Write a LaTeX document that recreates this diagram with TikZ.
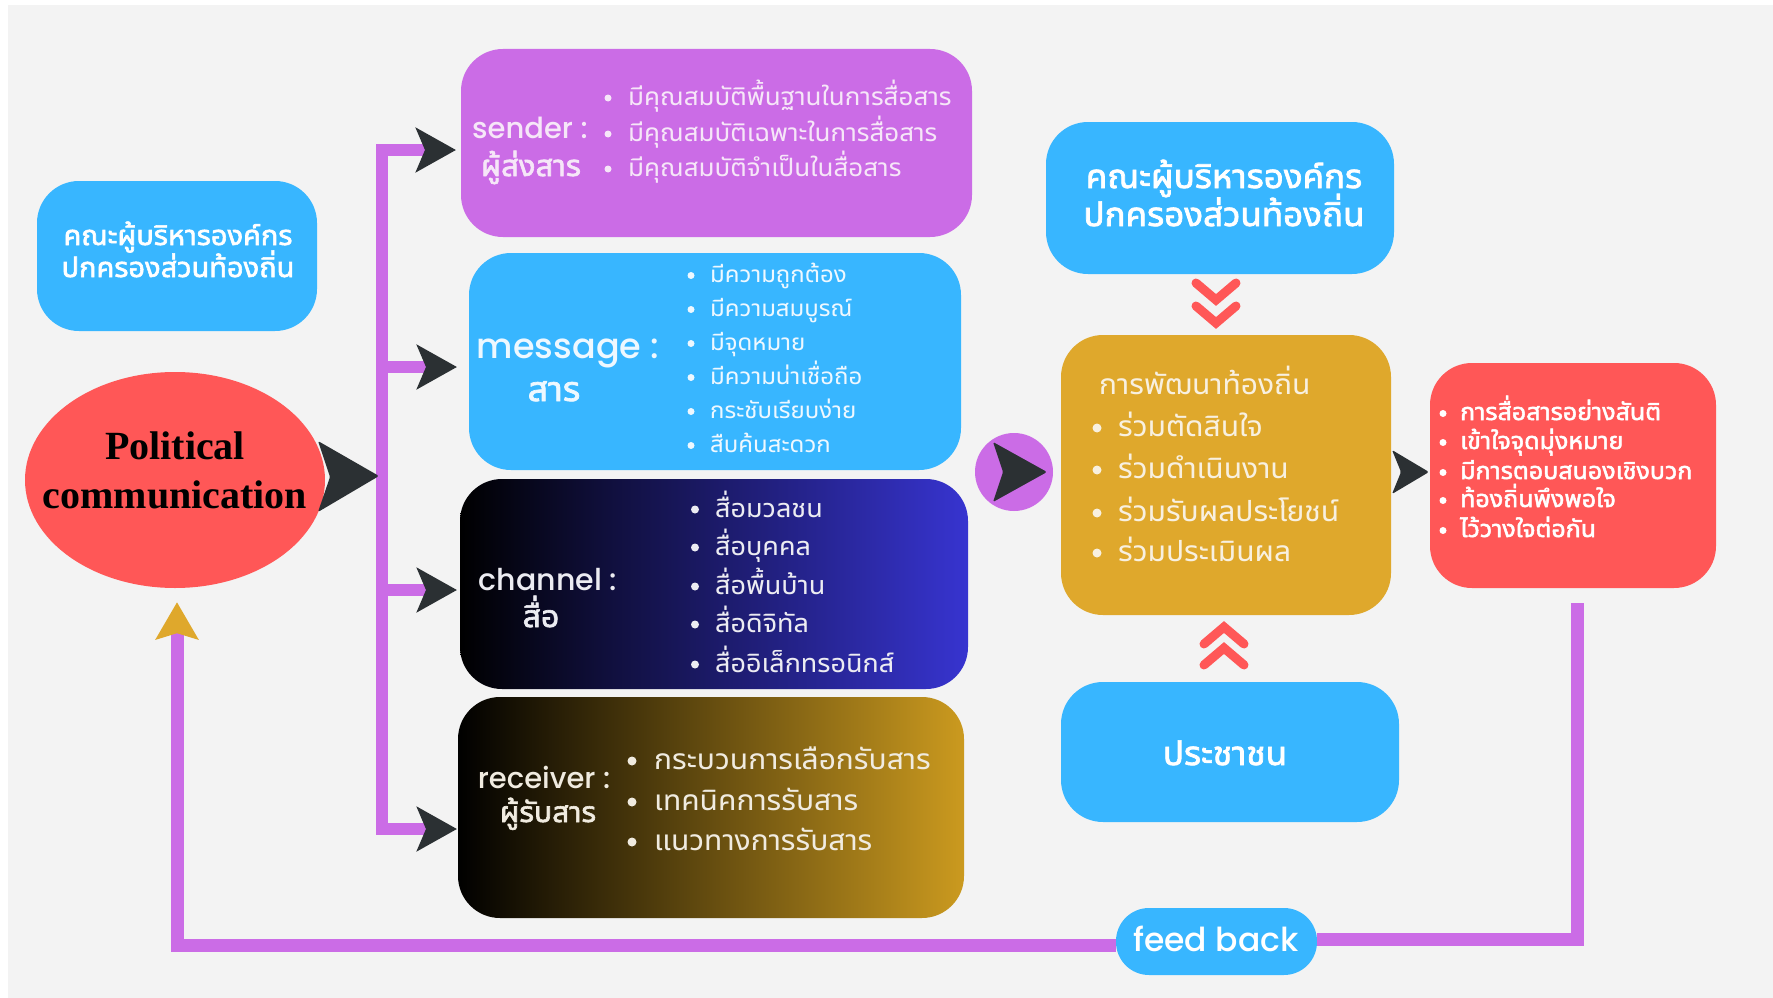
\documentclass[tikz,border=0pt]{standalone}
\usepackage{fontspec}
\usetikzlibrary{arrows.meta,shapes.geometric,calc}
\newfontfamily\thaifont[Script=Thai]{Noto Sans Thai UI}
\IfFontExistsTF{Noto Sans Thai UI Bold}
  {\newfontfamily\thaibold[Script=Thai]{Noto Sans Thai UI Bold}}
  {\newfontfamily\thaibold[Script=Thai,FakeBold=2]{Noto Sans Thai UI}}
\IfFontExistsTF{Poppins Medium}
  {\newfontfamily\latinfont{Poppins Medium}}
  {\newfontfamily\latinfont[FakeBold=0.8]{Poppins}}
\newfontfamily\titlefont{Liberation Serif}
\definecolor{bg}{HTML}{F3F3F3}
\definecolor{cblue}{HTML}{38B6FF}
\definecolor{cpurple}{HTML}{CB6CE6}
\definecolor{cred}{HTML}{FF5757}
\definecolor{cgold}{HTML}{DFA82C}
\definecolor{cdark}{HTML}{2B3033}
\definecolor{chanright}{HTML}{3734D0}
\definecolor{recright}{HTML}{CB9A1F}
\definecolor{tsender}{HTML}{F6E6F8}
\definecolor{tmsg}{HTML}{EEF8FF}
\definecolor{tchan}{HTML}{ECECF2}
\definecolor{trec}{HTML}{F0EBE0}
\definecolor{tgold}{HTML}{F8F0E0}
\tikzset{
  box/.style={rounded corners=42pt, inner sep=0pt, draw=none},
  thr/.style={font=\thaifont\fontsize{#1}{#1}\selectfont, inner sep=0pt, anchor=base west},
  thb/.style={font=\thaibold\fontsize{#1}{#1}\selectfont, inner sep=0pt, anchor=base},
  thbw/.style={font=\thaibold\fontsize{#1}{#1}\selectfont, inner sep=0pt, anchor=base west},
  lat/.style={font=\latinfont\fontsize{#1}{#1}\selectfont, inner sep=0pt, anchor=base},
  trunkline/.style={cpurple, line width=12pt, line join=miter},
  fbline/.style={cpurple, line width=13pt, line join=miter},
  darktip/.tip={Stealth[length=40pt, width=44pt, inset=9pt, color=cdark]},
  goldtip/.tip={Stealth[length=37pt, width=42pt, inset=6pt, color=cgold]},
  chevron/.style={cred, line width=9pt, line cap=round, line join=miter},
}
\begin{document}
\begin{tikzpicture}[x=1pt,y=-1pt]
\useasboundingbox (0,0) rectangle (1773,998);
\fill[white] (0,0) rectangle (1773,998);
\fill[bg] (8,5) rectangle (1773,998);

% ---------- boxes ----------
\node[box, fill=cblue, minimum width=280, minimum height=150] (admin) at (177,256) {};
\node[ellipse, inner sep=0pt, fill=cred, minimum width=300, minimum height=216] (pc) at (175,480) {};
\node[box, fill=cpurple, minimum width=511, minimum height=188] (sender) at (716.5,143) {};
\node[box, fill=cblue, minimum width=492, minimum height=217] (message) at (715,361.5) {};
\node[box, left color=black, right color=chanright, minimum width=508, minimum height=210] (channel) at (714,584) {};
\node[box, left color=black, right color=recright, minimum width=506, minimum height=221] (receiver) at (711,807.5) {};
\node[circle, inner sep=0pt, fill=cpurple, minimum size=78] (hub) at (1014,472) {};
\node[box, fill=cblue, minimum width=348, minimum height=152] (admin2) at (1220,198) {};
\node[box, fill=cgold, minimum width=330, minimum height=280] (dev) at (1226,475) {};
\node[box, fill=cred, minimum width=286, minimum height=225] (result) at (1573,475.5) {};
\node[box, fill=cblue, minimum width=338, minimum height=140] (people) at (1230,752) {};
\node[box, rounded corners=33pt, fill=cblue, minimum width=201, minimum height=67] (fb) at (1216.5,941.5) {};

% ---------- branching connector to the four elements ----------
\coordinate (t1) at (382,150);
\coordinate (t2) at (382,367);
\coordinate (t3) at (382,590);
\coordinate (t4) at (382,829);
\coordinate (in1) at (456,150);
\coordinate (in2) at (457,367);
\coordinate (in3) at (457,590);
\coordinate (in4) at (457,829);
\draw[trunkline, {darktip}-{darktip}] (in1) -- (t1) -- (t4) -- (in4);
\draw[trunkline, -{darktip}] (t2) -- (in2);
\draw[trunkline, -{darktip}] (t3) -- (in3);

% arrow from the ellipse into the trunk
\fill[cdark, rounded corners=1.5pt] (318,441) -- (379,476) -- (318,512) -- (330,477) -- cycle;
% arrow in the hub circle
\fill[cdark, rounded corners=1.5pt] (993,442) -- (1047,472) -- (993,502) -- (1003,472) -- cycle;
% arrow from development box to results
\fill[cdark, rounded corners=1.5pt] (1392,450) -- (1429,472) -- (1392,494) -- (1401,472) -- cycle;

% chevrons between the right-hand boxes
\draw[chevron] (1196,283) -- (1216,300) -- (1236,283);
\draw[chevron] (1196,306) -- (1216,323) -- (1236,306);
\draw[chevron] (1204,644) -- (1224,627) -- (1244,644);
\draw[chevron] (1204,665) -- (1224,648) -- (1244,665);

% feedback loop
\draw[fbline] ([xshift=4pt, yshift=-15pt]result.south) |- ([yshift=2pt]fb.east);
\draw[fbline, -{goldtip}] ([yshift=-4pt]fb.west) -| ([xshift=2pt, yshift=-14pt]pc.south);

% ---------- texts ----------
\node[thb=29, white] (admin-a) at (178,245) {คณะผู้บริหารองค์กร};
\node[thb=29, white] (admin-b) at (178,277) {ปกครองส่วนท้องถิ่น};

\node[font=\titlefont\bfseries\fontsize{40}{40}\selectfont, inner sep=0pt, anchor=base, black] (pc-a) at (175,459) {Political};
\node[font=\titlefont\bfseries\fontsize{40}{40}\selectfont, inner sep=0pt, anchor=base, black] (pc-b) at (175,508) {communication};

% sender
\node[lat=29, tsender] (snd-h) at (530,138) {sender :};
\node[thb=31, tsender] (snd-t) at (531,176) {ผู้ส่งสาร};
\foreach \yy/\item [count=\i] in {105/มีคุณสมบัติพื้นฐานในการสื่อสาร,141/มีคุณสมบัติเฉพาะในการสื่อสาร,176/มีคุณสมบัติจำเป็นในสื่อสาร}{
  \fill[tsender] (608,{\yy-7}) circle (3.5);
  \node[thr=26, tsender] (snd-\i) at (628,\yy) {\item};
}

% message
\node[lat=35, tmsg] (msg-h) at (568,358) {message :};
\node[thb=36, tmsg] (msg-t) at (554,401) {สาร};
\foreach \yy/\item [count=\i] in {282/มีความถูกต้อง,316/มีความสมบูรณ์,350/มีจุดหมาย,384/มีความน่าเชื่อถือ,418/กระชับเรียบง่าย,452/สืบค้นสะดวก}{
  \fill[tmsg] (691,{\yy-6.5}) circle (3.5);
  \node[thr=24, tmsg] (msg-\i) at (710,\yy) {\item};
}

% channel
\node[lat=30, tchan] (chn-h) at (548,590) {channel :};
\node[thb=32, tchan] (chn-t) at (541,627) {สื่อ};
\foreach \yy/\item [count=\i] in {517/สื่อมวลชน,555/สื่อบุคคล,594/สื่อพื้นบ้าน,632/สื่อดิจิทัล,672/สื่ออิเล็กทรอนิกส์}{
  \fill[tchan] (695,{\yy-7.5}) circle (4);
  \node[thr=27, tchan] (chn-\i) at (715,\yy) {\item};
}

% receiver
\node[lat=29, trec] (rcv-h) at (544,788) {receiver :};
\node[thb=30, trec] (rcv-t) at (548,822) {ผู้รับสาร};
\foreach \yy/\item [count=\i] in {769/กระบวนการเลือกรับสาร,810/เทคนิคการรับสาร,850/แนวทางการรับสาร}{
  \fill[trec] (632,{\yy-8}) circle (4.5);
  \node[thr=30, trec] (rcv-\i) at (654,\yy) {\item};
}

% local administration (right)
\node[thb=35, white] (admin2-a) at (1224,188) {คณะผู้บริหารองค์กร};
\node[thb=35, white] (admin2-b) at (1224,226) {ปกครองส่วนท้องถิ่น};

% local development
\node[thr=30, tgold] (dev-h) at (1099,394) {การพัฒนาท้องถิ่น};
\foreach \yy/\item [count=\i] in {436/ร่วมตัดสินใจ,478/ร่วมดำเนินงาน,521/ร่วมรับผลประโยชน์,561/ร่วมประเมินผล}{
  \fill[tgold] (1097,{\yy-8}) circle (4.5);
  \node[thr=30, tgold] (dev-\i) at (1118,\yy) {\item};
}

% results
\foreach \yy/\item [count=\i] in {420/การสื่อสารอย่างสันติ,449/เข้าใจจุดมุ่งหมาย,479/มีการตอบสนองเชิงบวก,507/ท้องถิ่นพึงพอใจ,537/ไว้วางใจต่อกัน}{
  \fill[white] (1443,{\yy-6.5}) circle (3.5);
  \node[thbw=25, white] (res-\i) at (1460,\yy) {\item};
}

% people
\node[thb=35, white] (people-t) at (1225,765) {ประชาชน};

% feedback label
\node[lat=33, white] (fb-t) at (1216,951) {feed back};
\end{tikzpicture}
\end{document}
